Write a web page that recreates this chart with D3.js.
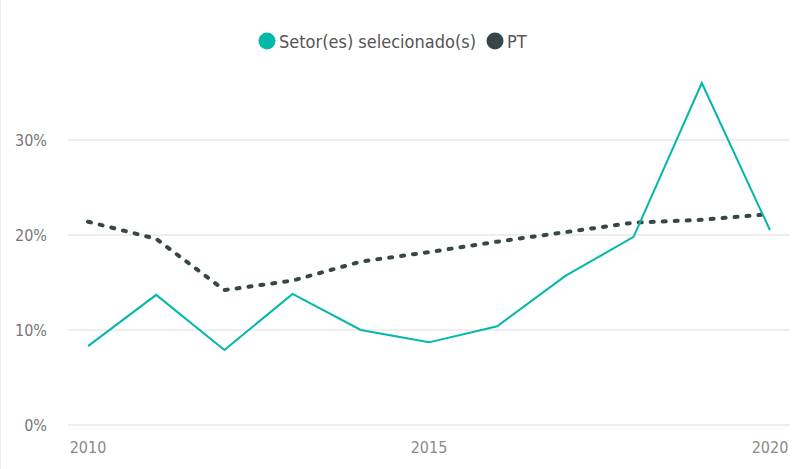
<!DOCTYPE html>
<html>
<head>
<meta charset="utf-8">
<script src="https://cdn.jsdelivr.net/npm/d3@7"></script>
<style>
  body { margin: 0; background: #fff; }
  svg { display: block; }
  text { font-family: "DejaVu Sans Condensed", "Liberation Sans Narrow", sans-serif; }
</style>
</head>
<body>
<div id="chart"></div>
<script>
// data
var years = [2010, 2011, 2012, 2013, 2014, 2015, 2016, 2017, 2018, 2019, 2020]
var setor = [8.3, 13.7, 7.9, 13.8, 10.0, 8.7, 10.4, 15.7, 19.8, 36.0, 20.5]
var pt = [21.4, 19.6, 14.2, 15.2, 17.2, 18.2, 19.3, 20.3, 21.3, 21.6, 22.2]
var yTicks = [0, 10, 20, 30]
var xTicks = [2010, 2015, 2020]
var seriesNames = ['Setor(es) selecionado(s)', 'PT']
var colors = ['#01B8AA', '#374649']

const W = 794, H = 469

const svg = d3.select('#chart').append('svg')
    .attr('width', W)
    .attr('height', H)

// faint left border
svg.append('line')
    .attr('x1', 0.5).attr('x2', 0.5).attr('y1', 0).attr('y2', H)
    .attr('stroke', '#eeeeee')

const x = d3.scaleLinear().domain([2010, 2020]).range([88, 770])
const y = d3.scaleLinear().domain([0, 30]).range([425, 140])

// gridlines
svg.append('g')
    .selectAll('line')
    .data(yTicks)
    .join('line')
    .attr('x1', 68).attr('x2', 790)
    .attr('y1', d => y(d)).attr('y2', d => y(d))
    .attr('stroke', '#e9e9e9')
    .attr('stroke-width', 1.5)

// y labels
svg.append('g')
    .selectAll('text')
    .data(yTicks)
    .join('text')
    .attr('x', 47)
    .attr('y', d => y(d) + 6)
    .attr('text-anchor', 'end')
    .attr('font-size', 16)
    .attr('fill', '#777')
    .text(d => d + '%')

// x labels
svg.append('g')
    .selectAll('text')
    .data(xTicks)
    .join('text')
    .attr('x', d => x(d))
    .attr('y', 453)
    .attr('text-anchor', 'middle')
    .attr('font-size', 16)
    .attr('fill', '#8a8a8a')
    .text(d => d)

const line = d3.line()
    .x((d, i) => x(years[i]))
    .y(d => y(d))

// PT dotted
svg.append('path')
    .datum(pt)
    .attr('d', line)
    .attr('fill', 'none')
    .attr('stroke', colors[1])
    .attr('stroke-width', 4)
    .attr('stroke-linecap', 'round')
    .attr('stroke-dasharray', '3,9')

// setor line
svg.append('path')
    .datum(setor)
    .attr('d', line)
    .attr('fill', 'none')
    .attr('stroke', colors[0])
    .attr('stroke-width', 2)
    .attr('stroke-linejoin', 'miter')

// legend
var legend = svg.append('g')
var lx = [267, 495]
seriesNames.forEach(function (name, i) {
    legend.append('circle')
        .attr('cx', lx[i]).attr('cy', 41).attr('r', 8.5)
        .attr('fill', colors[i])
    legend.append('text')
        .attr('x', lx[i] + 12).attr('y', 47.5)
        .attr('font-size', 18)
        .attr('fill', '#555')
        .text(name)
})
</script>
</body>
</html>
